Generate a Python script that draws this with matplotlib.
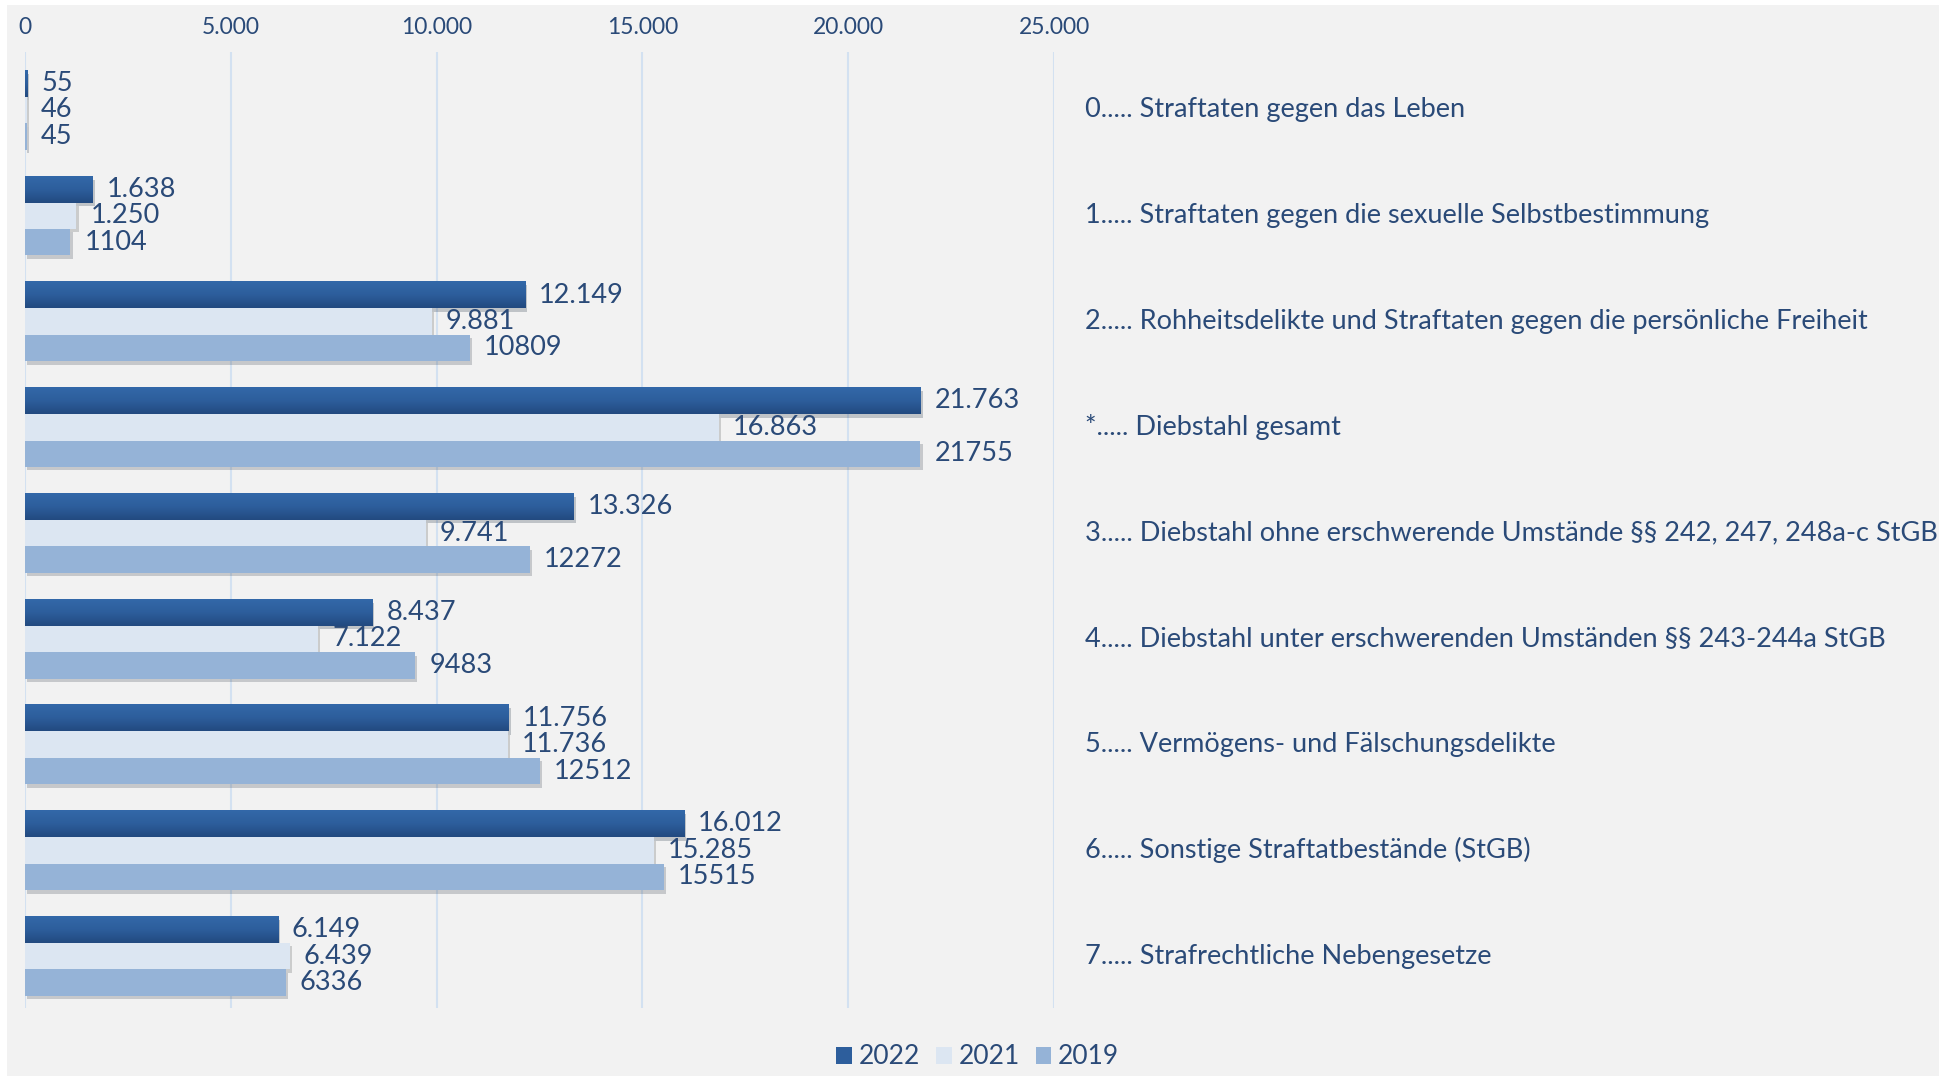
import numpy as np
import matplotlib
matplotlib.use("Agg")
import matplotlib.pyplot as plt
import matplotlib.patheffects as pe
from matplotlib.patches import Rectangle, Patch
from matplotlib.colors import LinearSegmentedColormap
import matplotlib.transforms as mtrans

plt.rcParams['font.family'] = ['Lato', 'DejaVu Sans']

kategorien = ["0..... Straftaten gegen das Leben",
              "1..... Straftaten gegen die sexuelle Selbstbestimmung",
              "2..... Rohheitsdelikte und Straftaten gegen die persönliche Freiheit",
              "*..... Diebstahl gesamt",
              "3..... Diebstahl ohne erschwerende Umstände §§ 242, 247, 248a-c StGB",
              "4..... Diebstahl unter erschwerenden Umständen §§ 243-244a StGB",
              "5..... Vermögens- und Fälschungsdelikte",
              "6..... Sonstige Straftatbestände (StGB)",
              "7..... Strafrechtliche Nebengesetze"]
jahre = ["2022", "2021", "2019"]
werte_2022 = [55, 1638, 12149, 21763, 13326, 8437, 11756, 16012, 6149]
werte_2021 = [46, 1250, 9881, 16863, 9741, 7122, 11736, 15285, 6439]
werte_2019 = [45, 1104, 10809, 21755, 12272, 9483, 12512, 15515, 6336]
x_ticks = [0, 5000, 10000, 15000, 20000, 25000]

farben = ["#2d5e9c", "#dce6f2", "#95b3d7"]
textfarbe = "#2a4a78"
W, H = 1944, 1076

fig = plt.figure(figsize=(W / 100, H / 100), dpi=100, facecolor="white")
fig.patches.append(Rectangle((7 / W, 0), (1939 - 7) / W, 1 - 5 / H,
                             transform=fig.transFigure, facecolor="#f2f2f2",
                             edgecolor="none", zorder=-10))

ax = fig.add_axes([25 / W, 1 - 1008 / H, (1054 - 25) / W, (1008 - 52) / H])
ax.set_facecolor("none")

def fmt_punkt(v):
    return f"{v:,}".replace(",", ".")

def fmt_plain(v):
    return str(v)

# Verlauf fuer die 2022-Balken
verlauf = LinearSegmentedColormap.from_list("v", ["#3368a9", "#2d5e9c", "#224a80"])
grad = np.linspace(0, 1, 64).reshape(-1, 1)

y = np.arange(len(kategorien))
h = 0.25
shadow = [pe.SimplePatchShadow(offset=(1.5, -2.5), alpha=0.22), pe.Normal()]
reihen = [(werte_2022, -h, fmt_punkt), (werte_2021, 0, fmt_punkt), (werte_2019, h, fmt_plain)]
for i, ((werte, off, fmt), farbe, jahr) in enumerate(zip(reihen, farben, jahre)):
    bars = ax.barh(y + off, werte, height=h, color=farbe, label=jahr, zorder=3)
    for b in bars:
        b.set_path_effects(shadow)
    if i == 0:
        for yi, v in zip(y + off, werte):
            ax.imshow(grad, cmap=verlauf, aspect="auto", zorder=3.5,
                      extent=[0, v, yi + h / 2, yi - h / 2])
    for yi, v in zip(y + off, werte):
        ax.annotate(fmt(v), (v, yi), xytext=(10, 0), textcoords="offset points",
                    va="center", ha="left", fontsize=19.5, color=textfarbe, zorder=4)

trans = mtrans.blended_transform_factory(ax.transAxes, ax.transData)
for yi, k in zip(y, kategorien):
    ax.text(1.03, yi, k, transform=trans, va="center", ha="left",
            fontsize=19.5, color=textfarbe, clip_on=False)

ax.set_xlim(0, 25000)
ax.set_ylim(8.49, -0.548)
ax.set_xticks(x_ticks)
ax.set_xticklabels([fmt_punkt(t) for t in x_ticks])
ax.xaxis.tick_top()
ax.tick_params(axis="x", length=0, pad=10, labelsize=16.5, labelcolor=textfarbe)
ax.set_yticks([])
ax.grid(axis="x", color="#d3e1f1", linewidth=1.5, zorder=0)
for s in ax.spines.values():
    s.set_visible(False)

handles = [Patch(facecolor=c, label=j) for c, j in zip(farben, jahre)]
fig.legend(handles=handles, loc="center", bbox_to_anchor=(0.503, 1 - 1057 / H), ncol=3,
           frameon=False, fontsize=19, handlelength=0.6, handleheight=0.6,
           handletextpad=0.25, columnspacing=0.6, labelcolor=textfarbe)

fig.savefig("out.png", dpi=100, facecolor="white")
